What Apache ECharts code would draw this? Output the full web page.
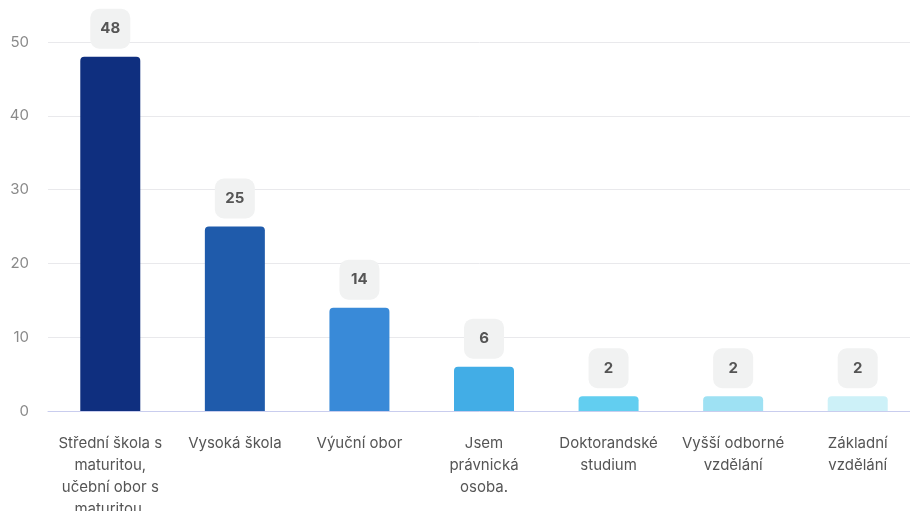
<!DOCTYPE html>
<html>
<head>
<meta charset="utf-8">
<script src="https://cdn.jsdelivr.net/npm/echarts@6/dist/echarts.min.js"></script>
<style>html,body{margin:0;padding:0;background:#fff;}#c{width:910px;height:511px;}</style>
</head>
<body>
<div id="c"></div>
<script>
const categories = [
  'Střední škola s\nmaturitou,\nučební obor s\nmaturitou.',
  'Vysoká škola',
  'Výuční obor',
  'Jsem\nprávnická\nosoba.',
  'Doktorandské\nstudium',
  'Vyšší odborné\nvzdělání',
  'Základní\nvzdělání'
];
const values = [48, 25, 14, 6, 2, 2, 2];
const barColors = ['#0f2f7f', '#1f5bab', '#398ad8', '#42ade6', '#62cef0', '#9ee1f3', '#cdf1f8'];
const yTicks = [0, 10, 20, 30, 40, 50];

const chart = echarts.init(document.getElementById('c'), null, {renderer: 'canvas'});
chart.setOption({
  animation: false,
  textStyle: {fontFamily: 'Inter'},
  grid: {left: 48, right: -10, top: 42, bottom: 100, containLabel: false, outerBoundsMode: 'none'},
  xAxis: {
    type: 'category',
    data: categories,
    axisTick: {show: false},
    axisLine: {lineStyle: {color: '#c9cdee', width: 1}},
    axisLabel: {color: '#555555', fontSize: 15, lineHeight: 22, margin: 21, interval: 0, fontFamily: 'Inter', hideOverlap: false},
  },
  yAxis: {
    type: 'value',
    min: yTicks[0],
    max: yTicks[yTicks.length - 1],
    interval: 10,
    axisLabel: {color: '#8a8a8a', fontSize: 15, margin: 19, fontFamily: 'Inter'},
    splitLine: {lineStyle: {color: '#e9e9ec', width: 1}},
    axisLine: {show: false},
    axisTick: {show: false}
  },
  series: [{
    type: 'bar',
    data: values.map((v, i) => ({value: v, itemStyle: {color: barColors[i]}})),
    barWidth: 60,
    itemStyle: {borderRadius: [4, 4, 0, 0]},
    label: {
      show: true,
      position: 'top',
      distance: 8,
      color: '#555555',
      fontWeight: 'bold',
      fontSize: 15,
      fontFamily: 'Inter',
      backgroundColor: '#f1f2f2',
      borderRadius: 9,
      width: 18,
      height: 18,
      lineHeight: 18,
      padding: [11, 11]
    }
  }]
});
</script>
</body>
</html>
